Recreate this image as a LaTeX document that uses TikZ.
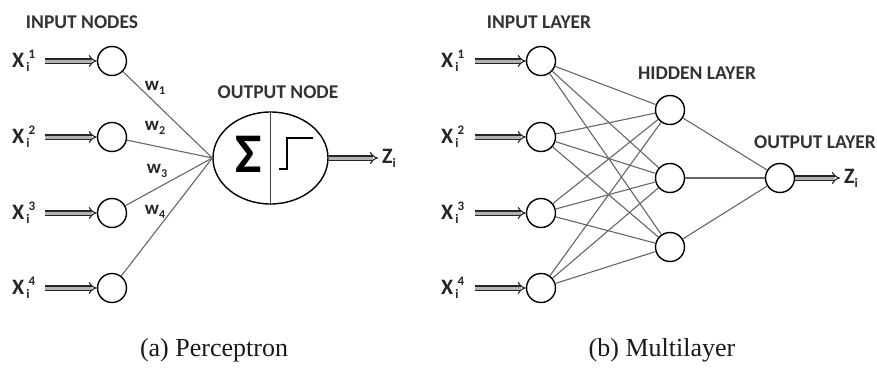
\documentclass[tikz,border=0pt]{standalone}
\usepackage{fontspec}
\setmainfont{Liberation Serif}
\newfontfamily\labelfont{Carlito}
\usetikzlibrary{arrows.meta,shapes.geometric}

% input symbol x_i^k and weight w_k
\newcommand{\xinput}[1]{X\rlap{\raisebox{-0.4ex}{\fontsize{13}{13}\selectfont\,i}}\raisebox{0.8ex}{\fontsize{13}{13}\selectfont\,\,#1}}
\newcommand{\wlabel}[1]{w\raisebox{-0.45ex}{\fontsize{12}{12}\selectfont #1}}

\begin{document}
\begin{tikzpicture}[x=1pt,y=-1pt,
  neuron/.style={circle,draw=black,line width=1.4pt,minimum size=29pt,inner sep=0pt},
  title/.style={font=\labelfont\bfseries\fontsize{19.5}{20}\selectfont,text=black!80},
  sym/.style={font=\labelfont\bfseries\fontsize{22}{22}\selectfont,text=black!85,inner sep=1pt},
  wsym/.style={font=\labelfont\bfseries\fontsize{19}{19}\selectfont,text=black!85,inner sep=0pt},
  feed/.style={double=gray!60,double distance=3pt,line width=1.1pt,-{Implies},draw=black!85},
  link/.style={draw=black!60,line width=1.1pt},
  caption/.style={font=\fontsize{26}{26}\selectfont,text=black!90}]

\useasboundingbox (0,0) rectangle (877,369);

% ---------------- (a) perceptron ----------------
\node[title] (tin) at (82,22) {INPUT NODES};
\foreach \k/\y in {1/61,2/137,3/213,4/288}{
  \node[neuron] (p\k) at (112,\y) {};
  \coordinate (pa\k) at (45,\y);
  \node[sym,anchor=west] (px\k) at (11,\y) {\xinput{\k}};
  \draw[feed] (pa\k) -- (p\k);
}
\node[ellipse,draw=black,line width=1.4pt,minimum width=115pt,minimum height=92pt,inner sep=0pt] (out) at (270.5,158) {};
\draw[black!75,line width=1pt] (out.north) -- (out.south);
\node[font=\labelfont\bfseries\fontsize{56}{56}\selectfont,inner sep=0pt] (sigma) at (249,154) {Σ};
\draw[black,line width=2.8pt] (279,169) -- (287,169) -- (287,138) -- (313,138);
\node[title] (tout) at (278,92) {OUTPUT NODE};
\foreach \k in {1,...,4}{ \draw[link] (p\k) -- (out.west); }
\node[wsym] (w1) at (155,88) {\wlabel{1}};
\node[wsym] (w2) at (155,128) {\wlabel{2}};
\node[wsym] (w3) at (157,171) {\wlabel{3}};
\node[wsym] (w4) at (155,212) {\wlabel{4}};
\coordinate (za) at (378,158);
\draw[feed] (out.east) -- (za);
\node[sym,anchor=west] (z1) at (381,158) {Z\raisebox{-0.4ex}{\fontsize{13}{13}\selectfont i}};

% ---------------- (b) multilayer ----------------
\node[title] (lin) at (539,22) {INPUT LAYER};
\node[title] (lhid) at (697,73) {HIDDEN LAYER};
\node[title] (lout) at (815,142) {OUTPUT LAYER};
\foreach \k/\y in {1/61,2/137,3/213,4/288}{
  \node[neuron] (m\k) at (541,\y) {};
  \coordinate (ma\k) at (475,\y);
  \node[sym,anchor=west] (mx\k) at (440,\y) {\xinput{\k}};
  \draw[feed] (ma\k) -- (m\k);
}
\foreach \j/\y in {1/110,2/178,3/247}{ \node[neuron] (h\j) at (670,\y) {}; }
\node[neuron] (o) at (780,178) {};
\foreach \k in {1,...,4}{ \foreach \j in {1,2,3}{ \draw[link] (m\k) -- (h\j); } }
\foreach \j in {1,2,3}{ \draw[link] (h\j) -- (o); }
\coordinate (zb) at (840,178);
\draw[feed] (o.east) -- (zb);
\node[sym,anchor=west] (z2) at (843,178) {Z\raisebox{-0.4ex}{\fontsize{13}{13}\selectfont i}};

% ---------------- captions ----------------
\node[caption] (capa) at (214,350) {(a) Perceptron};
\node[caption] (capb) at (662,350) {(b) Multilayer};
\end{tikzpicture}
\end{document}
